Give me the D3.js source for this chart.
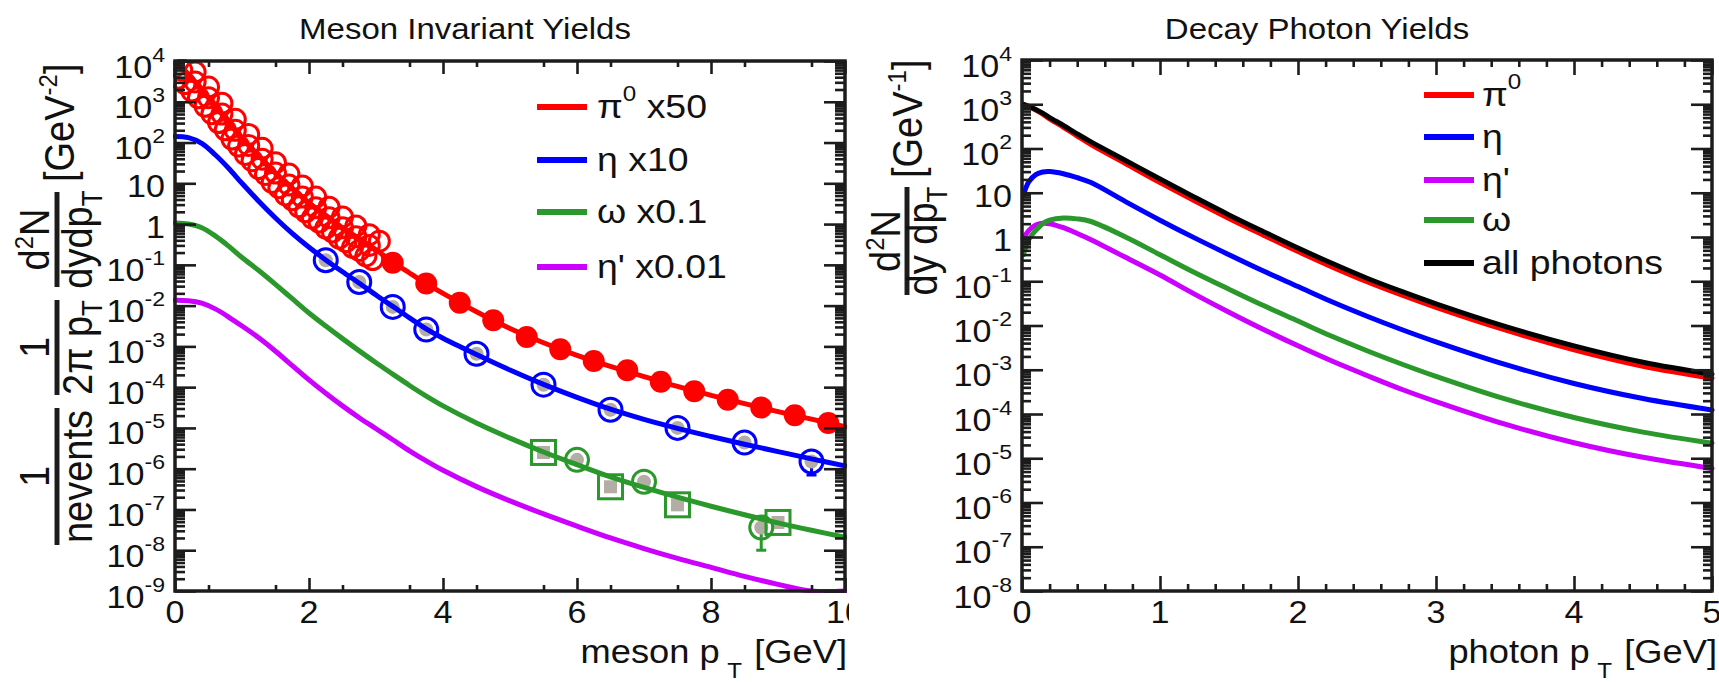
<!DOCTYPE html>
<html>
<head>
<meta charset="utf-8">
<script src="https://cdn.jsdelivr.net/npm/d3@7"></script>
<style>
  body { margin: 0; background: #fff; }
  svg { display: block; }
  text { font-family: "Liberation Sans", Arial, Helvetica, sans-serif; fill: #111; }
</style>
</head>
<body>
<svg id="chart" width="1719" height="684"></svg>
<script>
// ---- meson invariant yields (left) ----
var mesonPt = [0, 0.2, 0.4, 0.6, 0.8, 1.0, 1.25, 1.5, 1.75, 2.0, 2.25, 2.5, 2.75, 3.0, 3.25, 3.5, 3.75, 4.0,
               4.5, 5.0, 5.5, 6.0, 6.5, 7.0, 7.5, 8.0, 8.5, 9.0, 9.5, 10];
var pi0Fit = [8900, 4800, 1950, 790, 316, 126, 47.3, 17.8, 7.67, 3.31, 1.64, 0.813, 0.437, 0.234, 0.117, 0.0631, 0.0347, 0.0200,
              0.00708, 0.00275, 0.00123, 6.03e-4, 3.24e-4, 1.82e-4, 1.04e-4, 6.31e-5, 3.94e-5, 2.51e-5, 1.64e-5, 1.07e-5];
var etaFit = [141, 132, 95.5, 50.1, 23.4, 10.0, 3.63, 1.41, 0.589, 0.269, 0.132, 0.0676, 0.0355, 0.0182, 0.00955, 0.00501, 0.00269, 0.00158,
              6.31e-4, 2.63e-4, 1.17e-4, 5.62e-5, 2.88e-5, 1.62e-5, 9.77e-6, 6.17e-6, 3.98e-6, 2.63e-6, 1.74e-6, 1.17e-6];
var omegaFit = [1.07, 1.0, 0.813, 0.513, 0.288, 0.151, 0.0724, 0.0331, 0.0148, 0.00661, 0.00316, 0.00155, 7.76e-4, 3.98e-4, 2.09e-4, 1.10e-4, 6.03e-5, 3.47e-5,
                1.32e-5, 5.62e-6, 2.57e-6, 1.26e-6, 6.31e-7, 3.47e-7, 2.0e-7, 1.20e-7, 7.41e-8, 4.68e-8, 3.09e-8, 2.09e-8];
var etapFit = [0.0135, 0.0132, 0.0115, 0.00832, 0.00525, 0.00316, 0.00162, 7.59e-4, 3.39e-4, 1.51e-4, 7.08e-5, 3.47e-5, 1.78e-5, 9.55e-6, 5.13e-6, 2.75e-6, 1.55e-6, 9.12e-7,
               3.63e-7, 1.62e-7, 7.76e-8, 3.89e-8, 2.0e-8, 1.10e-8, 6.31e-9, 3.80e-9, 2.29e-9, 1.45e-9, 9.55e-10, 6.46e-10];

// low-pT pi0 measurements (three overlapping sets)
var pi0LowPt = [0.05, 0.15, 0.25, 0.35, 0.45, 0.55, 0.65, 0.75, 0.85, 0.95, 1.05, 1.15, 1.25, 1.35, 1.45, 1.55, 1.65, 1.75, 1.85, 1.95,
                2.05, 2.15, 2.25, 2.35, 2.45, 2.55, 2.65, 2.75, 2.85, 2.95];
var pi0LowVal = [3800, 2800, 1850, 1250, 775, 510, 310, 205, 122, 82, 51, 36, 23, 16.5, 10.5, 7.8, 5.2, 3.95, 2.65, 2.0,
                 1.4, 1.12, 0.8, 0.64, 0.45, 0.37, 0.27, 0.225, 0.165, 0.135];
var pi0LowPt2 = [0.3, 0.5, 0.7, 0.9, 1.1, 1.3, 1.5, 1.7, 1.9, 2.1, 2.3, 2.5, 2.7, 2.9, 3.05];
var pi0LowVal2 = [5400, 2300, 920, 370, 158, 72, 32, 16.8, 8.6, 4.6, 2.6, 1.5, 0.9, 0.55, 0.38];
var pi0LowPt3 = [0.1, 0.3, 0.5, 0.7, 0.9, 1.1, 1.3, 1.5, 1.7, 1.9, 2.1, 2.3, 2.5, 2.7, 2.9];
var pi0LowVal3 = [6000, 3070, 1260, 500, 200, 85, 39, 17.8, 9.1, 4.6, 2.5, 1.43, 0.81, 0.49, 0.30];
var pi0HighPt = [3.25, 3.75, 4.25, 4.75, 5.25, 5.75, 6.25, 6.75, 7.25, 7.75, 8.25, 8.75, 9.25, 9.75];
var pi0HighVal = [0.112, 0.0347, 0.0117, 0.00437, 0.0017, 8.5e-4, 4.37e-4, 2.6e-4, 1.35e-4, 7.9e-5, 4.9e-5, 3.16e-5, 2.04e-5, 1.32e-5];

var etaDataPt = [2.25, 2.75, 3.25, 3.75, 4.5, 5.5, 6.5, 7.5, 8.5, 9.5];
var etaDataVal = [0.13, 0.038, 0.0093, 0.0026, 6.6e-4, 1.15e-4, 2.8e-5, 1.0e-5, 4.4e-6, 1.5e-6];
var etaDataLow = [null, null, null, null, null, null, null, null, null, 7e-7];

var omegaSqPt = [5.5, 6.5, 7.5, 9.0];
var omegaSqVal = [2.5e-6, 3.6e-7, 1.3e-7, 4.8e-8];
var omegaCircPt = [6.0, 7.0, 8.75];
var omegaCircVal = [1.65e-6, 4.8e-7, 3.6e-8];
var omegaCircLow = [null, null, 1.0e-8];

var mesonLegend = ["\u03c0|0| x50", "\u03b7 x10", "\u03c9 x0.1", "\u03b7' x0.01"];

// ---- decay photon yields (right) ----
var photonPt = [0.01, 0.05, 0.1, 0.15, 0.2, 0.3, 0.4, 0.5, 0.75, 1.0, 1.25, 1.5, 1.75, 2.0, 2.25, 2.5, 2.75, 3.0, 3.5, 4.0, 4.5, 5.0];
var gammaPi0 = [990, 880, 735, 595, 468, 302, 191, 123, 45.7, 17.0, 6.61, 2.63, 1.10, 0.468, 0.209, 0.0977, 0.0490, 0.0257, 0.00794, 0.00282, 0.00120, 6.46e-4];
var gammaEta = [8.91, 17.8, 25.7, 29.5, 30.2, 26.9, 21.9, 17.0, 6.31, 2.40, 0.955, 0.398, 0.170, 0.0759, 0.0339, 0.0162, 0.00813, 0.00427, 0.00132, 4.90e-4, 2.24e-4, 1.23e-4];
var gammaEtap = [0.933, 1.41, 1.86, 2.04, 2.0, 1.62, 1.20, 0.871, 0.347, 0.138, 0.0513, 0.0200, 0.00813, 0.00347, 0.00155, 7.41e-4, 3.63e-4, 1.91e-4, 5.89e-5, 2.24e-5, 1.05e-5, 5.89e-6];
var gammaOmega = [0.398, 0.891, 1.41, 2.0, 2.40, 2.69, 2.57, 2.24, 1.0, 0.398, 0.158, 0.0661, 0.0282, 0.0126, 0.00562, 0.00269, 0.00135, 7.08e-4, 2.19e-4, 8.32e-5, 3.89e-5, 2.19e-5];
var gammaAll = [1000, 900, 762, 628, 501, 331, 214, 141, 53.7, 20.4, 7.94, 3.16, 1.32, 0.562, 0.251, 0.117, 0.0589, 0.0309, 0.00955, 0.00347, 0.00148, 7.94e-4];

var photonLegend = ["\u03c0|0|", "\u03b7", "\u03b7'", "\u03c9", "all photons"];

var RED = "#ff0000", BLUE = "#0000ff", GREEN = "#2a982a", MAG = "#cc00ff", GRAY = "#b4ada5", INK = "#1c1c1c";
var SX = 1.1;

var svg = d3.select("#chart");
var defs = svg.append("defs");
defs.append("clipPath").attr("id", "leftclip")
   .append("rect").attr("x", 0).attr("y", 0).attr("width", 849).attr("height", 684);
defs.append("clipPath").attr("id", "plotclip")
   .append("rect").attr("x", 173).attr("y", 59).attr("width", 674).attr("height", 534);

// horizontally stretched text, like the original
function stext(parent, x, y, size, anchor) {
  return parent.append("g").attr("transform", "translate(" + x + "," + y + ") scale(" + SX + ",1)")
    .append("text").attr("font-size", size).attr("text-anchor", anchor || "start");
}

// "a|b|c" -> a, superscript b, c
function richText(t, s, supSize, supDy) {
  var parts = s.split("|");
  t.append("tspan").text(parts[0]);
  if (parts.length > 1) {
    t.append("tspan").attr("font-size", supSize).attr("dy", -supDy).text(parts[1]);
    t.append("tspan").attr("dy", supDy).text(parts[2]);
  }
}

function logMinors(lo, hi) {
  var out = [];
  for (var e = lo; e < hi; e++) for (var k = 2; k < 10; k++) out.push(k * Math.pow(10, e));
  return out;
}

function styleAxis(g) {
  g.select(".domain").remove();
  g.selectAll("text").remove();
  g.selectAll("line").attr("stroke", INK).attr("stroke-width", 2.6);
}

function panel(g, x, y, xMajor, xMinor, yLo, yHi, tk) {
  var x0 = x.range()[0], x1 = x.range()[1], y0 = y.range()[1], y1 = y.range()[0];
  var yMajor = d3.range(yLo, yHi + 1).map(function(e){ return Math.pow(10, e); });
  var yMinor = logMinors(yLo, yHi);

  g.append("g").attr("transform", "translate(0," + y1 + ")").call(d3.axisBottom(x).tickValues(xMajor).tickSize(-tk.xM)).call(styleAxis);
  g.append("g").attr("transform", "translate(0," + y1 + ")").call(d3.axisBottom(x).tickValues(xMinor).tickSize(-tk.xm)).call(styleAxis);
  g.append("g").attr("transform", "translate(0," + y0 + ")").call(d3.axisTop(x).tickValues(xMajor).tickSize(-tk.xM)).call(styleAxis);
  g.append("g").attr("transform", "translate(0," + y0 + ")").call(d3.axisTop(x).tickValues(xMinor).tickSize(-tk.xm)).call(styleAxis);
  g.append("g").attr("transform", "translate(" + x0 + ",0)").call(d3.axisLeft(y).tickValues(yMajor).tickSize(-tk.yM)).call(styleAxis);
  g.append("g").attr("transform", "translate(" + x0 + ",0)").call(d3.axisLeft(y).tickValues(yMinor).tickSize(-tk.ym)).call(styleAxis);
  g.append("g").attr("transform", "translate(" + x1 + ",0)").call(d3.axisRight(y).tickValues(yMajor).tickSize(-tk.yM)).call(styleAxis);
  g.append("g").attr("transform", "translate(" + x1 + ",0)").call(d3.axisRight(y).tickValues(yMinor).tickSize(-tk.ym)).call(styleAxis);

  g.append("rect").attr("x", x0).attr("y", y0).attr("width", x1 - x0).attr("height", y1 - y0)
   .attr("fill", "none").attr("stroke", INK).attr("stroke-width", 3.5);

  // tick labels
  yMajor.forEach(function(v, i) {
    var e = yLo + i;
    var t = stext(g, x0 - 10, y(v) + (e === 0 || e === 1 ? 14 : 16.5), 31, "end");
    if (e === 0) t.text("1");
    else if (e === 1) t.text("10");
    else {
      t.append("tspan").text("10");
      t.append("tspan").attr("font-size", 21).attr("dy", -16).text(e < 0 ? "-" + (-e) : e);
    }
  });
  xMajor.forEach(function(v) {
    stext(g, x(v), 623, 31, "middle").text(v);
  });
}

function curve(g, xs, ys, x, y, color, width) {
  var pts = xs.map(function(d, i){ return [d, ys[i]]; });
  var bottom = y.range()[0];
  var line = d3.line()
    .x(function(d){ return x(d[0]); })
    .y(function(d){ return Math.min(y(d[1]), bottom); })
    .curve(d3.curveCatmullRom.alpha(0.5));
  g.append("path").datum(pts).attr("d", line)
   .attr("fill", "none").attr("stroke", color).attr("stroke-width", width)
   .attr("stroke-linejoin", "round").attr("stroke-linecap", "round");
}

function pairs(xs, ys, lows) {
  return xs.map(function(d, i){ return { x: d, y: ys[i], low: lows ? lows[i] : null }; });
}

function errorBars(g, data, x, y, color) {
  var d = data.filter(function(p){ return p.low; });
  g.selectAll(null).data(d).enter().append("line")
   .attr("x1", function(p){ return x(p.x); }).attr("x2", function(p){ return x(p.x); })
   .attr("y1", function(p){ return y(p.y); }).attr("y2", function(p){ return y(p.low); })
   .attr("stroke", color).attr("stroke-width", 3);
  g.selectAll(null).data(d).enter().append("line")
   .attr("x1", function(p){ return x(p.x) - 5; }).attr("x2", function(p){ return x(p.x) + 5; })
   .attr("y1", function(p){ return y(p.low); }).attr("y2", function(p){ return y(p.low); })
   .attr("stroke", color).attr("stroke-width", 3);
}

function circles(g, data, x, y, r, fill, stroke, sw) {
  g.selectAll(null).data(data).enter().append("circle")
   .attr("cx", function(p){ return x(p.x); }).attr("cy", function(p){ return y(p.y); })
   .attr("r", r).attr("fill", fill).attr("stroke", stroke).attr("stroke-width", sw);
}

function squares(g, data, x, y, s, fill, stroke, sw) {
  g.selectAll(null).data(data).enter().append("rect")
   .attr("x", function(p){ return x(p.x) - s / 2; }).attr("y", function(p){ return y(p.y) - s / 2; })
   .attr("width", s).attr("height", s).attr("fill", fill).attr("stroke", stroke).attr("stroke-width", sw);
}

function legend(g, labels, colors, ys, lx, tx, size) {
  labels.forEach(function(s, i) {
    g.append("line").attr("x1", lx).attr("x2", lx + 50).attr("y1", ys[i]).attr("y2", ys[i])
     .attr("stroke", colors[i]).attr("stroke-width", 6);
    richText(stext(g, tx, ys[i] + 11, size), s, 22, 17);
  });
}

// rotated, stretched axis-title pieces; local x = -screen y
function rotTitle(bx, size) {
  return svg.append("g").attr("transform", "translate(" + bx + ",0) scale(" + SX + ",1) rotate(-90)")
    .attr("font-size", size);
}
function addPieces(t, pieces) {
  pieces.forEach(function(p) {
    var s = t.append("tspan").text(p[0]);
    if (p[1]) s.attr("font-size", p[1]).attr("dy", p[2]);
    if (p[3]) s.attr("dx", p[3]);
  });
}
function frac(g, ya, yb, num, den, nb, db) {
  var c = -(ya + yb) / 2;
  g.append("line").attr("x1", -yb).attr("x2", -ya).attr("y1", 0).attr("y2", 0)
   .attr("stroke", INK).attr("stroke-width", 4.5);
  addPieces(g.append("text").attr("x", c).attr("y", nb).attr("text-anchor", "middle"), num);
  addPieces(g.append("text").attr("x", c).attr("y", db).attr("text-anchor", "middle"), den);
}

// ================= left panel =================
var left = svg.append("g").attr("clip-path", "url(#leftclip)");
var xL = d3.scaleLinear().domain([0, 10]).range([175, 845]);
var yL = d3.scaleLog().domain([1e-9, 1e4]).range([591, 61]);

stext(left, 465, 39, 30, "middle").text("Meson Invariant Yields");

var plotL = left.append("g").attr("clip-path", "url(#plotclip)");
curve(plotL, mesonPt, etapFit, xL, yL, MAG, 5);
curve(plotL, mesonPt, pi0Fit, xL, yL, RED, 5);

var etaPts = pairs(etaDataPt, etaDataVal, etaDataLow);
var omSq = pairs(omegaSqPt, omegaSqVal);
var omCi = pairs(omegaCircPt, omegaCircVal, omegaCircLow);

circles(plotL, pairs(pi0LowPt2, pi0LowVal2), xL, yL, 10, "none", RED, 3);
circles(plotL, pairs(pi0LowPt3, pi0LowVal3), xL, yL, 10, "none", RED, 3);
circles(plotL, pairs(pi0LowPt, pi0LowVal), xL, yL, 10, "none", RED, 3);
circles(plotL, pairs(pi0HighPt, pi0HighVal), xL, yL, 11, RED, "none", 0);

errorBars(plotL, etaPts, xL, yL, BLUE);
errorBars(plotL, omCi, xL, yL, GREEN);
circles(plotL, etaPts, xL, yL, 7, GRAY, "none", 0);
squares(plotL, omSq, xL, yL, 13, GRAY, "none", 0);
circles(plotL, omCi, xL, yL, 7, GRAY, "none", 0);

curve(plotL, mesonPt, omegaFit, xL, yL, GREEN, 5);
curve(plotL, mesonPt, etaFit, xL, yL, BLUE, 5);

circles(plotL, etaPts, xL, yL, 11.5, "none", BLUE, 3);
squares(plotL, omSq, xL, yL, 24, "none", GREEN, 3);
circles(plotL, omCi, xL, yL, 11.5, "none", GREEN, 3);

panel(left, xL, yL, [0, 2, 4, 6, 8, 10], d3.range(0.5, 10, 1), -9, 4, { xM: 13, xm: 6, yM: 21, ym: 10 });
legend(left, mesonLegend, [RED, BLUE, GREEN, MAG], [107, 160, 212, 267], 537, 597, 34);

var xtL = stext(left, 847, 663, 33, "end");
addPieces(xtL, [["meson p"], ["T", 22, 15, 7], ["[GeV]", 33, -15, 11]]);

var ytL = rotTitle(57, 38);
frac(ytL, 408, 545, [["1"]], [["nevents"]], -7, 32);
frac(ytL, 300, 395, [["1"]], [["2\u03c0 p"], ["T", 26, 9]], -7, 32);
frac(ytL, 192, 287, [["d"], ["2", 24, -15], ["N", 38, 15]], [["dydp"], ["T", 26, 9]], -7, 32);
addPieces(ytL.append("text").attr("x", -182).attr("y", 15), [["[GeV"], ["-2", 24, -15], ["]", 38, 15]]);

// ================= right panel =================
var right = svg.append("g");
var xR = d3.scaleLinear().domain([0, 5]).range([1022, 1712]);
var yR = d3.scaleLog().domain([1e-8, 1e4]).range([591, 60]);

stext(right, 1317, 39, 30, "middle").text("Decay Photon Yields");

curve(right, photonPt, gammaPi0, xR, yR, RED, 5);
curve(right, photonPt, gammaEta, xR, yR, BLUE, 5);
curve(right, photonPt, gammaEtap, xR, yR, MAG, 5);
curve(right, photonPt, gammaOmega, xR, yR, GREEN, 5);
curve(right, photonPt, gammaAll, xR, yR, "#000", 5);

panel(right, xR, yR, [0, 1, 2, 3, 4, 5], d3.range(0.2, 5, 0.2).filter(function(v){ return Math.abs(v - Math.round(v)) > 0.01; }),
      -8, 4, { xM: 15, xm: 7, yM: 21, ym: 9 });
legend(right, photonLegend, [RED, BLUE, MAG, GREEN, "#000"], [95, 137, 180, 220, 263], 1424, 1482, 34);

var xtR = stext(right, 1717, 663, 33, "end");
addPieces(xtR, [["photon p"], ["T", 22, 15, 7], ["[GeV]", 33, -15, 11]]);

var ytR = rotTitle(907, 38);
frac(ytR, 187, 295, [["d"], ["2", 24, -15], ["N", 38, 15]], [["dy dp"], ["T", 26, 9]], -6, 27);
addPieces(ytR.append("text").attr("x", -178).attr("y", 14), [["[GeV"], ["-1", 24, -15], ["]", 38, 15]]);
</script>
</body>
</html>
